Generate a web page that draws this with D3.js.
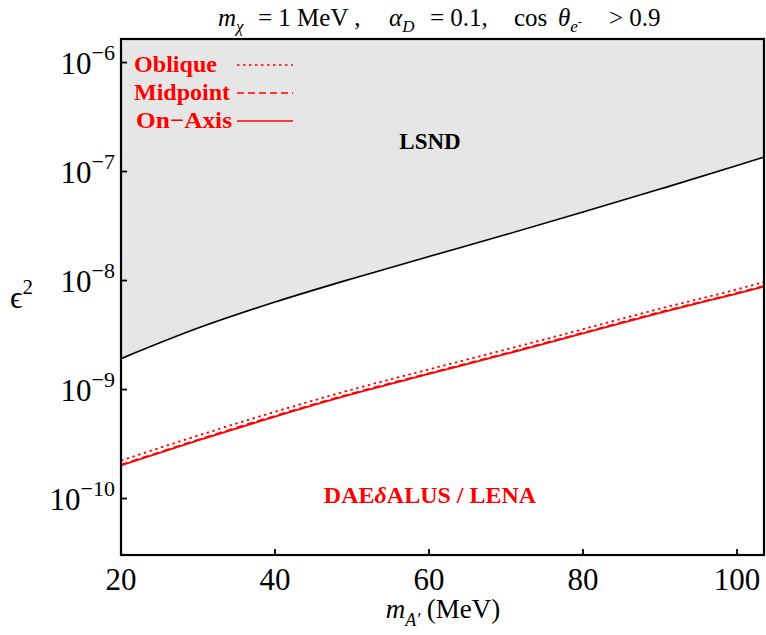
<!DOCTYPE html>
<html>
<head>
<meta charset="utf-8">
<script src="https://cdn.jsdelivr.net/npm/d3@7"></script>
<style>
  body { margin: 0; background: #fff; }
  svg { display: block; }
  text { font-family: "Liberation Serif", "Times New Roman", serif; white-space: pre; }
</style>
</head>
<body>
<svg id="chart" width="766" height="635"></svg>
<script>
// ---- data ----
const massX = [20, 30, 40, 50, 60, 70, 80, 90, 100, 103.5];
const lsnd = [1.92e-9, 3.66e-9, 6.35e-9, 1.04e-8, 1.66e-8, 2.64e-8, 4.25e-8, 6.90e-8, 1.135e-7, 1.36e-7];
const oblique = [2.23e-10, 3.78e-10, 6.25e-10, 1.0e-9, 1.53e-9, 2.33e-9, 3.58e-9, 5.52e-9, 8.3e-9, 9.7e-9];
const midpoint = [2.04e-10, 3.46e-10, 5.74e-10, 9.2e-10, 1.41e-9, 2.15e-9, 3.32e-9, 5.13e-9, 7.7e-9, 8.93e-9];
const onAxis = [2.01e-10, 3.41e-10, 5.65e-10, 9.07e-10, 1.39e-9, 2.12e-9, 3.27e-9, 5.06e-9, 7.6e-9, 8.81e-9];
const xTicks = [20, 40, 60, 80, 100];
const yTickExps = [-6, -7, -8, -9, -10];
const legendItems = ["Oblique", "Midpoint", "On\u2212Axis"];

const svg = d3.select("#chart");
const L = 121, R = 764, T = 39, B = 555;
const x = d3.scaleLinear().domain([20, 103.5]).range([L, R]);
const y = d3.scaleLog().domain([Math.pow(10, -10.518), Math.pow(10, -5.784)]).range([B, T]);

svg.append("defs").append("clipPath").attr("id", "clip")
  .append("rect").attr("x", L).attr("y", T).attr("width", R - L).attr("height", B - T);

const g = svg.append("g").attr("clip-path", "url(#clip)");

// LSND excluded region
const yTopVal = y.domain()[1];
const area = d3.area().x((d, i) => x(massX[i])).y0(y(yTopVal)).y1(d => y(d)).curve(d3.curveMonotoneX);
g.append("path").datum(lsnd).attr("d", area).attr("fill", "#e6e6e6");

const line = d3.line().x((d, i) => x(massX[i])).y(d => y(d)).curve(d3.curveMonotoneX);
g.append("path").datum(lsnd).attr("d", line).attr("fill", "none").attr("stroke", "#000").attr("stroke-width", 1.6);

const series = [
  { data: oblique, dash: "2.5,3.5" },
  { data: midpoint, dash: "7,4" },
  { data: onAxis, dash: null }
];
series.forEach(s => {
  g.append("path").datum(s.data).attr("d", line).attr("fill", "none")
    .attr("stroke", "#ff0000").attr("stroke-width", 1.8)
    .attr("stroke-dasharray", s.dash);
});

// frame
svg.append("rect").attr("x", L).attr("y", T).attr("width", R - L).attr("height", B - T)
  .attr("fill", "none").attr("stroke", "#000").attr("stroke-width", 2.2);

// x ticks
xTicks.forEach(v => {
  svg.append("line").attr("x1", x(v)).attr("x2", x(v)).attr("y1", B).attr("y2", B - 6)
    .attr("stroke", "#000").attr("stroke-width", 1.8);
  svg.append("text").attr("x", x(v)).attr("y", 590).attr("text-anchor", "middle")
    .attr("font-size", 31).text(v);
});

// y ticks
yTickExps.forEach(e => {
  const yy = y(Math.pow(10, e));
  svg.append("line").attr("x1", L).attr("x2", L + 6).attr("y1", yy).attr("y2", yy)
    .attr("stroke", "#000").attr("stroke-width", 1.8);
  const t = svg.append("text").attr("x", 115).attr("y", yy + 11).attr("text-anchor", "end").attr("font-size", 31);
  t.append("tspan").text("10");
  t.append("tspan").attr("dy", -14).attr("font-size", 22).text("\u2212" + (-e));
});

// axis labels
const yl = svg.append("text").attr("x", 10).attr("y", 308).attr("font-size", 31);
yl.append("tspan").text("\u03F5");
yl.append("tspan").attr("dy", -14).attr("font-size", 21).text("2");

const xl = svg.append("text").attr("x", 443).attr("y", 618).attr("text-anchor", "middle").attr("font-size", 27);
xl.append("tspan").attr("font-style", "italic").text("m");
xl.append("tspan").attr("dy", 8).attr("font-size", 18).attr("font-style", "italic").text("A\u2032");
xl.append("tspan").attr("dy", -8).text(" (MeV)");

// title (segments anchored at positions)
const tt = svg.append("text").attr("y", 26).attr("font-size", 25);
tt.append("tspan").attr("x", 218).attr("font-style", "italic").text("m");
tt.append("tspan").attr("dy", 6).attr("font-size", 17).attr("font-style", "italic").text("\u03C7");
tt.append("tspan").attr("x", 258).attr("dy", -6).text("= 1 MeV ,");
tt.append("tspan").attr("x", 389).attr("font-style", "italic").text("\u03B1");
tt.append("tspan").attr("dy", 6).attr("font-size", 17).attr("font-style", "italic").text("D");
tt.append("tspan").attr("x", 430).attr("dy", -6).text("= 0.1,");
tt.append("tspan").attr("x", 514).text("cos");
tt.append("tspan").attr("x", 558).attr("font-style", "italic").text("\u03B8");
tt.append("tspan").attr("dy", 6).attr("font-size", 17).attr("font-style", "italic").text("e");
tt.append("tspan").attr("dy", -6).attr("font-size", 12).text("-");
tt.append("tspan").attr("x", 609).attr("dy", 0).attr("font-size", 25).text("> 0.9");

// legend
const legY = [65, 93, 121];
const legX = [134, 134, 136];
legendItems.forEach((name, i) => {
  svg.append("text").attr("x", legX[i]).attr("y", legY[i] + 7).attr("font-size", 23)
    .attr("font-weight", "bold").attr("fill", "#ff0000").attr("textLength", i === 0 ? 83 : 96)
    .attr("lengthAdjust", "spacingAndGlyphs").text(name);
  svg.append("line").attr("x1", 237).attr("x2", 293).attr("y1", legY[i]).attr("y2", legY[i])
    .attr("stroke", "#ff0000").attr("stroke-width", 1.5)
    .attr("stroke-dasharray", series[i].dash);
});

// region labels
svg.append("text").attr("x", 430).attr("y", 149).attr("text-anchor", "middle").attr("font-size", 23)
  .attr("font-weight", "bold").attr("fill", "#000").text("LSND");
const dl = svg.append("text").attr("x", 430).attr("y", 503).attr("text-anchor", "middle").attr("font-size", 24)
  .attr("font-weight", "bold").attr("fill", "#ff0000");
dl.append("tspan").text("DAE");
dl.append("tspan").attr("font-style", "italic").text("\u03B4");
dl.append("tspan").text("ALUS / LENA");
</script>
</body>
</html>
